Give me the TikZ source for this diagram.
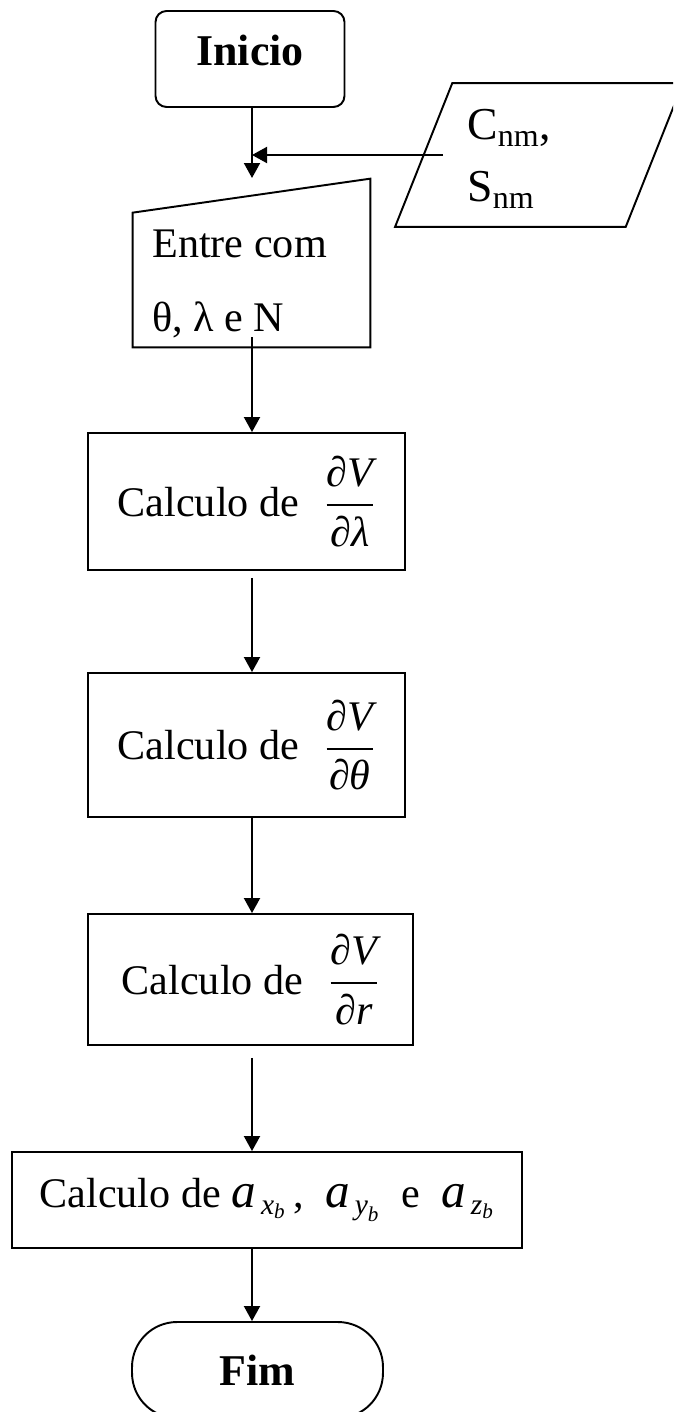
\documentclass[tikz,border=0pt]{standalone}
\usepackage{amsmath}
\usepackage{fontspec}
\setmainfont{Liberation Serif}
\usetikzlibrary{arrows.meta}

\newcommand{\derivada}[1]{\dfrac{\text{\itshape ∂V}}{\text{\itshape ∂#1}}}
\newcommand{\acel}[1]{$\text{\fontsize{28}{30}\selectfont\itshape a}_{\,\text{\itshape #1}_{\text{\itshape b}}}$}

\begin{document}
\begin{tikzpicture}[
		x=0.02cm, y=-0.02cm,
		linha/.style={line width=1.1pt},
		caixa/.style={draw, line width=1.1pt, inner sep=0pt, font=\fontsize{24}{29}\selectfont},
		terminal/.style={caixa, font=\fontsize{25}{30}\selectfont\bfseries},
		texto/.style={anchor=base west, inner sep=0pt, font=\fontsize{24}{29}\selectfont},
		arrow/.style={-{Triangle[length=0.3cm,width=0.32cm]}, line width=1.1pt}
		]
		\useasboundingbox (0,0) rectangle (673,1412);
		\clip (0,0) rectangle (673,1412);
		
		% Nodes
		\node[terminal, rounded corners=0.22cm, minimum width=3.78cm, minimum height=1.92cm, text depth=0.36cm] (inicio) at (250,59) {Inicio};
		\node[minimum width=4.6cm, minimum height=2.86cm] (dados) at (539,155) {};
		\node[texto, font=\fontsize{26}{31}\selectfont] (cnm) at (467,140) {C\textsubscript{nm},};
		\node[texto, font=\fontsize{26}{31}\selectfont] (snm) at (467,202) {S\textsubscript{nm}};
		\node[minimum width=4.74cm, minimum height=3.36cm] (entrada) at (251.5,263) {};
		\node[texto] (entre) at (152,258) {Entre com};
		\node[texto] (parametros) at (152,332) {θ, λ e N};
		\node[caixa, minimum width=6.34cm, minimum height=2.74cm] (dlambda) at (246.5,501.5) {Calculo de\hspace{0.6em}$\derivada{λ}$};
		\node[caixa, minimum width=6.34cm, minimum height=2.88cm] (dtheta) at (246.5,745) {Calculo de\hspace{0.6em}$\derivada{θ}$};
		\node[caixa, minimum width=6.5cm, minimum height=2.62cm] (dr) at (250.5,979.5) {Calculo de\hspace{0.6em}$\derivada{r}$};
		\node[caixa, minimum width=10.2cm, minimum height=1.92cm] (aceleracao) at (267,1200) {Calculo de \acel{x}\,, \ \acel{y}\ \ e\ \ \acel{z}};
		\node[terminal, rounded corners=0.9cm, minimum width=5.02cm, minimum height=1.92cm] (fim) at (257.5,1370) {Fim};
		
		\coordinate (eixo) at (252,0);
		\coordinate (juncao) at (252,155);
		\coordinate (alvo) at (252,178);
		\coordinate (saida) at (443,155);
		
		% Shapes
		\draw[linha] ([xshift=-0.572cm]dados.south west) -- ([xshift=-0.572cm]dados.south east) -- ([xshift=0.572cm]dados.north east) -- ([xshift=0.572cm]dados.north west) -- cycle;
		\draw[linha] (entrada.south west) -- (entrada.south east) -- (entrada.north east) -- ([yshift=-0.68cm]entrada.north west) -- cycle;
		
		% Arrows
		\draw[arrow] (inicio.south -| eixo) -- (alvo);
		\draw[arrow] (saida) -- (juncao);
		\draw[arrow, shorten <=-0.2cm] (entrada.south -| eixo) -- (dlambda.north -| eixo);
		\draw[arrow, shorten <=0.14cm] (dlambda.south -| eixo) -- (dtheta.north -| eixo);
		\draw[arrow] (dtheta.south -| eixo) -- (dr.north -| eixo);
		\draw[arrow, shorten <=0.24cm] (dr.south -| eixo) -- (aceleracao.north -| eixo);
		\draw[arrow] (aceleracao.south -| eixo) -- (fim.north -| eixo);
		
	\end{tikzpicture}
\end{document}
